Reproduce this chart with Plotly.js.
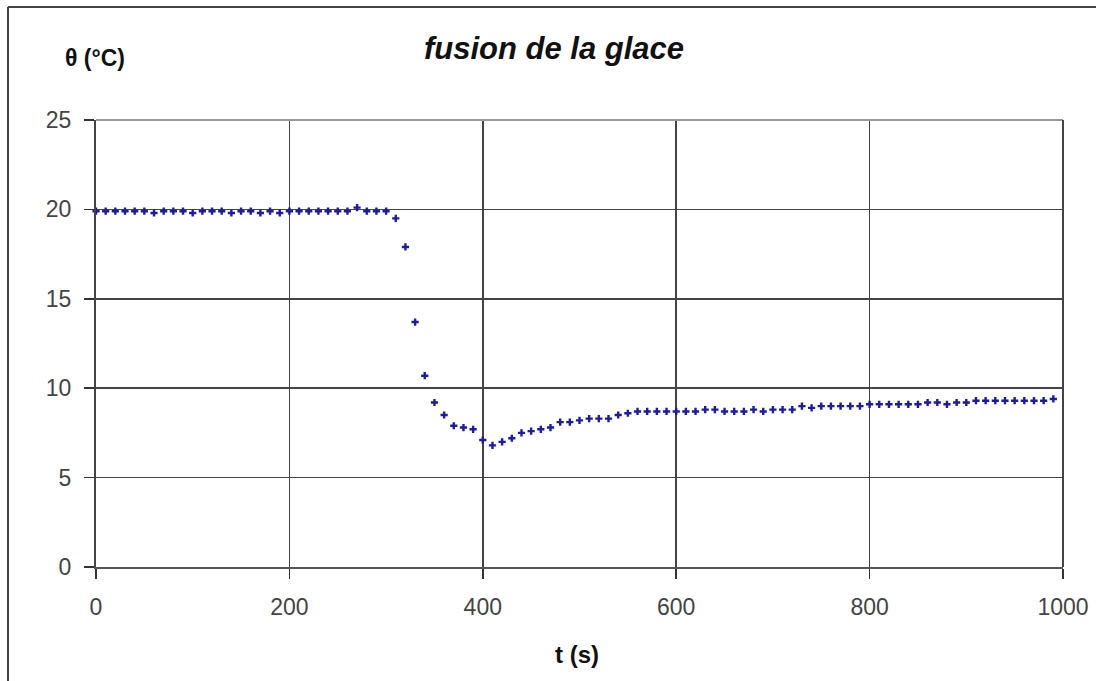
<!DOCTYPE html>
<html>
<head>
<meta charset="utf-8">
<script src="https://cdn.plot.ly/plotly-3.0.1.min.js"></script>
<style>html,body{margin:0;padding:0;background:#fff;overflow:hidden;}#chart{width:1096px;height:681px;}</style>
</head>
<body>
<div id="chart"></div>
<script>
// time (s)
const timeS = [
  0,10,20,30,40,50,60,70,80,90,
  100,110,120,130,140,150,160,170,180,190,
  200,210,220,230,240,250,260,270,280,290,
  300,310,320,330,340,350,360,370,380,390,
  400,410,420,430,440,450,460,470,480,490,
  500,510,520,530,540,550,560,570,580,590,
  600,610,620,630,640,650,660,670,680,690,
  700,710,720,730,740,750,760,770,780,790,
  800,810,820,830,840,850,860,870,880,890,
  900,910,920,930,940,950,960,970,980,990
];
// temperature (°C)
const thetaC = [
  19.9,19.9,19.9,19.9,19.9,19.9,19.8,19.9,19.9,19.9,
  19.8,19.9,19.9,19.9,19.8,19.9,19.9,19.8,19.9,19.8,
  19.9,19.9,19.9,19.9,19.9,19.9,19.9,20.1,19.9,19.9,
  19.9,19.5,17.9,13.7,10.7,9.2,8.5,7.9,7.8,7.7,
  7.1,6.8,7.0,7.2,7.5,7.6,7.7,7.8,8.1,8.1,
  8.2,8.3,8.3,8.3,8.5,8.6,8.7,8.7,8.7,8.7,
  8.7,8.7,8.7,8.8,8.8,8.7,8.7,8.7,8.8,8.7,
  8.8,8.8,8.8,9.0,8.9,9.0,9.0,9.0,9.0,9.0,
  9.1,9.1,9.1,9.1,9.1,9.1,9.2,9.2,9.1,9.2,
  9.2,9.3,9.3,9.3,9.3,9.3,9.3,9.3,9.3,9.4
];
const chartTitle = "fusion de la glace";
const xTitle = "t (s)";
const yTitle = "θ (°C)";
const xTicks = [0,200,400,600,800,1000];
const yTicks = [0,5,10,15,20,25];

const FONT = "Liberation Sans, Arial, Helvetica, sans-serif";
const W = 1096, H = 681;
const L = 96, R = 1063, T = 120, B = 567;
const px2x = p => (p - L) / (R - L);
const px2y = p => (B - p) / (B - T);

const trace = {
  x: timeS, y: thetaC, type: 'scatter', mode: 'markers',
  marker: {symbol: 'cross', size: 6, color: '#1c1ca0', line: {width: 0}},
  cliponaxis: false, hoverinfo: 'x+y'
};

const layout = {
  width: W, height: H,
  margin: {l: L, r: W - R, t: T, b: H - B, pad: 0},
  paper_bgcolor: '#fff', plot_bgcolor: '#fff',
  font: {family: FONT, color: '#333'},
  showlegend: false,
  title: {
    text: chartTitle, xref: 'container', yref: 'container',
    x: 554 / W, xanchor: 'center', y: 1 - 48 / H, yanchor: 'middle',
    font: {family: FONT, size: 31, color: '#111', weight: 'bold', style: 'italic'}
  },
  xaxis: {
    range: [0, 1000], tickvals: xTicks, ticktext: xTicks.map(String),
    ticks: 'outside', ticklen: 10, tickwidth: 1.5, tickcolor: '#333',
    ticklabelstandoff: 8,
    showgrid: true, gridcolor: '#444', gridwidth: 1.6,
    showline: true, linecolor: '#555', linewidth: 2,
    zeroline: false, tickfont: {size: 23, color: '#444'}
  },
  yaxis: {
    range: [0, 25], tickvals: yTicks, ticktext: yTicks.map(String),
    ticks: 'outside', ticklen: 10, tickwidth: 1.5, tickcolor: '#333',
    ticklabelstandoff: 8,
    showgrid: true, gridcolor: '#444', gridwidth: 1.6,
    showline: true, linecolor: '#444', linewidth: 2,
    zeroline: false, tickfont: {size: 23, color: '#444'}
  },
  annotations: [
    {text: yTitle, xref: 'paper', yref: 'paper', x: px2x(95), y: px2y(58),
     xanchor: 'center', yanchor: 'middle', showarrow: false,
     font: {family: FONT, size: 23, color: '#111', weight: 'bold'}},
    {text: xTitle, xref: 'paper', yref: 'paper', x: px2x(577), y: px2y(654),
     xanchor: 'center', yanchor: 'middle', showarrow: false,
     font: {family: FONT, size: 24, color: '#111', weight: 'bold'}}
  ],
  shapes: [
    {type: 'line', xref: 'paper', yref: 'paper', layer: 'below',
     x0: px2x(8), x1: px2x(1100), y0: px2y(7), y1: px2y(7),
     line: {color: '#444', width: 2}},
    {type: 'line', xref: 'paper', yref: 'paper', layer: 'below',
     x0: px2x(8), x1: px2x(8), y0: px2y(7), y1: px2y(690),
     line: {color: '#444', width: 2}},
    {type: 'line', xref: 'paper', yref: 'paper', x0: 0, x1: 1, y0: 1, y1: 1,
     line: {color: '#999', width: 2}},
    {type: 'line', xref: 'paper', yref: 'paper', x0: 1, x1: 1, y0: 0, y1: 1,
     line: {color: '#444', width: 2}}
  ]
};

Plotly.newPlot('chart', [trace], layout, {displayModeBar: false, staticPlot: true});
</script>
</body>
</html>
